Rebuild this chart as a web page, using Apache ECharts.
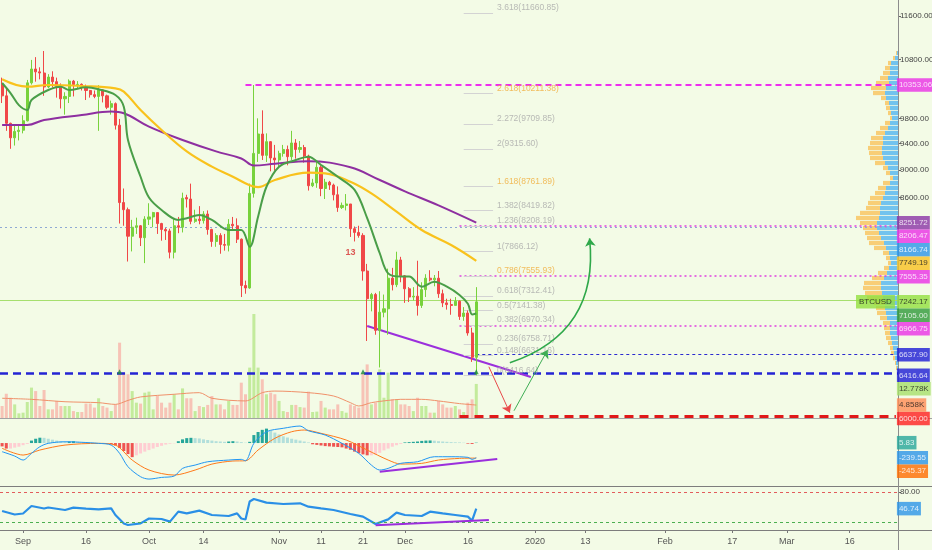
<!DOCTYPE html>
<html><head><meta charset="utf-8">
<script src="https://cdn.jsdelivr.net/npm/echarts@6/dist/echarts.min.js"></script>
<style>html,body{margin:0;padding:0;background:#f3fbe6;}#c{width:932px;height:550px;}</style>
</head><body><div id="c"></div>
<script>
// ================= DATA =================
const startDate = [2019, 7, 27];   // first category: 2019-08-27
const dayCount = 214;              // through 2020-03-27
const xTickLabels = [['2019-09-01','Sep'],['2019-09-16','16'],['2019-10-01','Oct'],['2019-10-14','14'],['2019-11-01','Nov'],['2019-11-11','11'],['2019-11-21','21'],['2019-12-01','Dec'],['2019-12-16','16'],['2020-01-01','2020'],['2020-01-13','13'],['2020-02-01','Feb'],['2020-02-17','17'],['2020-03-01','Mar'],['2020-03-16','16']];
const priceTicks = [11600, 10800, 9800, 9400, 9000, 8600];
const rsiTicks = [80];
// daily candles [open, high, low, close], 2019-08-27 .. 2019-12-18
const candles = [
[10370,10480,10050,10170],[10170,10290,9600,9720],[9720,9730,9320,9490],[9490,9690,9370,9590],[9590,9680,9450,9610],
[9610,9850,9560,9760],[9760,10440,9750,10390],[10390,10790,10360,10630],[10630,10840,10410,10580],[10580,10660,10450,10560],
[10560,10950,10170,10320],[10320,10540,10300,10490],[10490,10590,10310,10410],[10410,10480,10140,10330],[10330,10380,9960,10120],
[10120,10230,9860,10160],[10160,10450,10050,10420],[10420,10440,10160,10360],[10360,10420,10290,10365],[10365,10380,10260,10310],
[10310,10360,10100,10260],[10260,10270,10140,10190],[10190,10260,10130,10160],[10160,10350,9600,10270],[10270,10280,10060,10170],
[10170,10190,9950,9980],[9980,10090,9860,10040],[10040,10060,9620,9690],[9690,9790,8240,8530],[8530,8730,8210,8430],
[8430,8460,7740,8070],[8070,8290,7870,8190],[8190,8320,8100,8210],[8210,8220,7940,8050],[8050,8340,7720,8300],
[8300,8520,8220,8330],[8330,8400,8190,8390],[8390,8390,8100,8240],[8240,8250,8010,8160],[8160,8180,8020,8140],
[8140,8170,7780,7860],[7860,8310,7780,8210],[8210,8330,8110,8190],[8190,8670,8120,8590],[8600,8640,8460,8580],
[8580,8800,8230,8270],[8270,8430,8250,8300],[8300,8480,8230,8280],[8280,8410,8240,8370],[8370,8420,8090,8160],
[8160,8170,7930,8000],[8000,8110,7930,8080],[8080,8110,7840,7960],[7960,8100,7880,7950],[7950,8300,7870,8230],
[8230,8330,8150,8210],[8210,8310,7980,8030],[8030,8040,7300,7440],[7440,7500,7340,7410],[7410,8800,7400,8660],
[8660,10353.06,8600,9250],[9250,9800,9120,9550],[9550,9930,9150,9220],[9220,9560,9120,9430],[9430,9440,8980,9180],
[9180,9380,8990,9150],[9150,9290,9030,9250],[9250,9380,9200,9310],[9310,9370,9070,9200],[9200,9600,9150,9410],
[9410,9470,9170,9310],[9310,9440,9260,9340],[9340,9380,9110,9210],[9210,9230,8700,8770],[8770,8870,8750,8810],
[8810,9120,8740,9040],[9040,9070,8620,8730],[8730,8870,8580,8820],[8820,8840,8710,8780],[8780,8800,8560,8640],
[8640,8760,8400,8460],[8460,8530,8440,8490],[8490,8650,8420,8510],[8510,8510,8060,8170],[8170,8200,8000,8120],
[8120,8210,8050,8080],[8080,8110,7500,7620],[7620,7710,6790,7280],[7280,7350,7130,7330],[7330,7350,6860,6910],
[6910,7370,6500,7120],[7120,7330,7060,7160],[7160,7650,6860,7530],[7530,7660,7380,7450],[7450,7866.12,7420,7760],
[7760,7800,7480,7560],[7560,7570,7230,7400],[7400,7420,7240,7300],[7300,7420,7260,7310],[7310,7750,7080,7200],
[7200,7480,7170,7390],[7390,7580,7300,7530],[7530,7630,7490,7510],[7510,7570,7430,7530],[7530,7620,7290,7340],
[7340,7390,7180,7230],[7230,7280,7150,7210],[7210,7280,7090,7200],[7200,7300,7200,7250],[7250,7260,7030,7070],
[7070,7180,7020,7110],[7110,7140,6850,6880],[6880,6940,6560,6610],[6610,7420,6416.64,7242.17]
];
const volumes = [4500,9100,7600,5100,1750,2000,6000,11400,10100,4500,10500,3250,3250,6400,4500,4500,4500,2600,2250,2250,
5400,5400,3900,7400,4500,3900,2600,5100,28250,17000,16400,10100,5750,5400,9500,9900,3250,8250,5750,3900,
5750,8900,3250,11100,7400,7400,2600,4500,4100,4900,8250,5100,5100,3250,6400,4900,4900,13250,8900,18900,
39000,18900,14500,8900,9500,8900,6400,2600,2250,4900,4900,4100,3900,9900,2250,2400,6400,3900,3250,3250,
5100,2600,2000,5100,4500,3900,17000,20100,5100,5750,18250,7600,17000,7000,7000,5100,5100,4500,2600,7600,
4500,4500,2000,2000,6400,5100,3900,3900,4500,3250,2250,5750,7000,12778];
const volumeMA = [[0,7400],[7,7000],[15,6100],[23,5750],[27,5100],[30,6600],[33,7900],[41,8900],[47,9500],[50,7400],[58,6400],[62,9500],[65,10100],[73,9500],[79,8250],[83,5750],[85,4500],[88,5750],[92,6600],[95,7000],[100,7000],[104,6400],[109,5400],[113,4858]];
const emaFast = [[0,10387],[2,10217],[4,10015],[6,9935],[7,10100],[11,10268],[14,10324],[16,10268],[20,10314],[23,10280],[27,10184],[29,9990],[30,9456],[33,8900],[35,8600],[38,8426],[42,8289],[44,8312],[47,8357],[50,8289],[54,8153],[57,8153],[59,7931],[61,8334],[63,8755],[66,9050],[70,9150],[73,9200],[76,9075],[80,8900],[84,8709],[87,8314],[90,7846],[92,7590],[95,7550],[97,7550],[100,7425],[103,7486],[106,7425],[109,7325],[111,7220],[112,7094],[113,7105]];
const maMid = [[0,10451],[6,10324],[11,10353],[19,10336],[27,10297],[29,10240],[33,9935],[38,9613],[44,9280],[50,9050],[55,8900],[59,8776],[61,8750],[65,8853],[73,8960],[77,8950],[83,8828],[88,8660],[94,8403],[100,8153],[107,7954],[113,7749.19]];
const maSlow = [[0,9693],[6,9693],[10,9773],[19,9854],[26,9909],[29,9882],[35,9666],[43,9456],[51,9280],[57,9173],[60,9066],[65,9093],[73,9132],[83,9040],[90,8853],[96,8689],[104,8490],[113,8251.72]];
const macdLine = [[0,-141],[3,-212],[5,-277],[7,-168],[9,-60],[11,-5],[15,21],[19,12],[23,-5],[26,-33],[28,-168],[30,-386],[33,-549],[35,-587],[38,-560],[41,-538],[43,-413],[46,-359],[49,-305],[54,-277],[57,-266],[58,-289],[60,-5],[63,184],[67,240],[71,277],[73,200],[77,130],[81,-5],[85,-168],[88,-359],[90,-440],[92,-413],[95,-331],[99,-305],[103,-223],[107,-223],[111,-233],[112,-266],[113,-239.55]];
const signalLine = [[0,-86],[5,-196],[9,-114],[15,-33],[23,-5],[27,-33],[31,-277],[35,-440],[41,-522],[46,-440],[50,-343],[55,-293],[58,-289],[61,-114],[65,77],[69,184],[72,212],[76,158],[82,49],[87,-114],[92,-277],[95,-342],[100,-331],[104,-277],[109,-250],[113,-245.37]];
const macdHist = [-55,-90,-90,-75,-60,-35,-15,40,70,87,85,70,55,40,25,15,25,30,20,12,8,5,3,0,-5,-10,-20,-40,-80,-130,
-180,-230,-200,-170,-140,-115,-90,-65,-45,-25,-12,-5,30,60,80,85,80,75,60,50,40,30,25,20,25,30,25,15,5,20,
130,180,215,235,200,170,140,110,90,70,55,40,25,10,-20,-30,-40,-50,-55,-60,-65,-70,-90,-110,-140,-165,-185,-200,-200,-190,
-160,-120,-90,-60,-35,-15,10,15,20,25,35,40,42,38,30,25,20,15,12,10,5,-10,-15,5.83];
const rsi = [[0,42],[3,35],[5,37],[7,52],[10,47],[11,49],[15,44],[17,48.7],[20,46.7],[23,45.3],[26,47.3],[27,34],[29,17],[30,14],[33,17.3],[35,27],[38,26],[40,20.7],[41,30.7],[42,40.7],[44,37.3],[47,42.7],[50,34],[54,32],[56,37.3],[57,27],[58,25],[59,61],[60,66],[63,58.7],[67,56],[71,57.3],[73,50.7],[76,47.3],[79,44],[83,36],[86,30.7],[89,16],[92,25.3],[94,38.7],[96,34],[100,32],[102,40.7],[105,37.3],[108,34],[111,30.7],[112,22.7],[113,46.74]];
const rsiBands = [80, 20];
const fibLevels = [[3.618,11660.85],[2.618,10211.38],[2.272,9709.85],[2,9315.60],[1.618,8761.89],[1.382,8419.82],[1.236,8208.19],[1,7866.12],[0.786,7555.93],[0.618,7312.41],[0.5,7141.38],[0.382,6970.34],[0.236,6758.71],[0.148,6631.16],[0,6416.64]];
const fibSpan = [110, 117];
const hLineValues = [10353.06, 8206.47, 8166.74, 7555.35, 7242.17, 6966.75, 6637.90, 6416.64, 6000];
const hLineStart = [58, 109, null, 109, null, 109, 113, null, 109];
const priceTags = [10353.06, 8251.72, 8206.47, 8166.74, 7749.19, 7555.35, 7242.17, 7105.00, 6966.75, 6637.90, 6416.64, 6000.00];
const volumeTags = [[12778, '12.778K'], [4858, '4.858K']];
const macdTags = [5.83, -239.55, -245.37];
const rsiTags = [46.74];
const symbolName = 'BTCUSD';
// volume profile rows [price, upVolume, downVolume] (relative units)
const profileRows = [[10914,1,1],[10824,3,2],[10735,7,3],[10647,8,5],[10560,8,7],[10473,10,8],[10387,9,13],[10302,12,15],[10217,13,12],[10134,12,5],
[10050,9,4],[9968,8,4],[9886,7,3],[9805,6,2],[9725,8,5],[9645,10,8],[9566,13,9],[9487,15,12],[9409,15,13],[9332,16,14],
[9256,16,13],[9180,15,13],[9104,13,10],[9030,10,5],[8956,8,4],[8882,5,3],[8809,8,7],[8737,12,8],[8665,13,10],[8594,15,13],
[8524,17,13],[8454,18,14],[8385,18,20],[8316,19,23],[8247,21,17],[8180,21,14],[8113,19,14],[8046,17,14],[7980,14,15],[7915,12,12],
[7850,9,6],[7785,8,4],[7721,7,3],[7658,9,5],[7595,11,9],[7533,14,12],[7471,17,17],[7410,17,18],[7349,16,17],[7289,15,16],
[7229,13,11],[7169,13,9],[7111,12,9],[7052,11,7],[6994,8,7],[6937,8,6],[6880,8,5],[6824,7,5],[6768,6,4],[6712,5,3],
[6657,4,3],[6602,3,2],[6548,2,1],[6495,1,1]];
// annotation geometry in data space: [[startIdx, value], [endIdx, value]]
const divergencePrice = [[87, 6960], [126, 6399]];
const divergenceMacd = [[90, -466], [118, -261]];
const divergenceRsi = [[89, 13.4], [116, 24]];
const arrowUpCurve = [[121, 6551], [140, 8042]];
const arrowUpThin = [[122, 6053], [130, 6691]];
const arrowDown = [[116, 6508], [121, 6033]];
const signalMarks = [[28, 6455], [86, 6455], [113, 6455]];
const countLabel = [[83, 7855, '13']];

// ================= BUILD =================
const LN = Math.log;
const PMIN = 5980.7, PMAX = 11910;
const FONT = "'Liberation Sans Narrow','Liberation Sans','DejaVu Sans',sans-serif";
const cats = [];
for (let i = 0; i < dayCount; i++) {
  const t = new Date(Date.UTC(startDate[0], startDate[1], startDate[2]) + i * 86400000);
  cats.push(t.toISOString().slice(0, 10));
}
const last = dayCount - 1;
const tickMap = new Map(xTickLabels);
const UP = '#78d23c', DOWN = '#f04848';
const VUP = '#c3eb9c', VDOWN = '#f7c3b6';

const candleData = candles.map(c => [LN(c[0]), LN(c[3]), LN(c[2]), LN(c[1])]);
const volData = volumes.map((v, i) => ({ value: v, itemStyle: { color: candles[i][3] >= candles[i][0] ? VUP : VDOWN } }));
const lnPairs = arr => arr.map(p => [p[0], LN(p[1])]);
const histData = macdHist.map((h, i) => {
  const prev = i > 0 ? macdHist[i - 1] : 0;
  let col;
  if (h >= 0) col = h >= prev ? '#26a69a' : '#b2dfdb';
  else col = h < prev ? '#ef5350' : '#ffcdd2';
  return { value: h, itemStyle: { color: col } };
});

const hStyles = [
  { color: '#ee2cee', width: 2, type: [6, 4] },
  { color: '#e040e0', width: 1.5, type: [2, 3] },
  { color: '#8fa9d4', width: 1, type: [2, 3] },
  { color: '#e040e0', width: 1.5, type: [2, 3] },
  { color: '#a6df6e', width: 1, type: 'solid' },
  { color: '#e040e0', width: 1.5, type: [2, 3] },
  { color: '#2a2ad0', width: 1, type: [3, 3] },
  { color: '#2424d4', width: 2.5, type: [8, 5] },
  { color: '#e01818', width: 3, type: [9, 6] }
];
const hLineData = hLineValues.map((v, i) => {
  const ls = hStyles[i];
  if (hLineStart[i] == null) return { yAxis: LN(v), lineStyle: ls };
  return [{ coord: [hLineStart[i], LN(v)], lineStyle: ls }, { coord: [last, LN(v)] }];
});
const fibOrange = { 2.618: 1, 1.618: 1, 0.786: 1 };
const fibLineData = fibLevels.map(f => [{ coord: [fibSpan[0], LN(f[1])] }, { coord: [fibSpan[1], LN(f[1])] }]);
const fibLabelData = fibLevels.map(f => ({
  value: [fibSpan[1], LN(f[1])],
  label: { formatter: f[0] + '(' + f[1].toFixed(2) + ')', color: fibOrange[f[0]] ? '#f0ad3a' : '#a9a9a9' }
}));
const seg = a => [{ coord: [a[0][0], a[0][1]] }, { coord: [a[1][0], a[1][1]] }];
const lnSeg = a => [[a[0][0], LN(a[0][1])], [a[1][0], LN(a[1][1])]];

const tagStyle = {
  MAG: ['#ea2fe6', '#fff'], PUR: ['#8a34a6', '#fff'], BLU: ['#2a95e8', '#fff'], YEL: ['#f9c222', '#222'],
  LIME: ['#92e03f', '#1a1a1a'], GRN: ['#2f9a3a', '#fff'], NAVY: ['#1b1bd6', '#fff'], RED: ['#ff1f1f', '#fff'],
  LGRN: ['#a6e06c', '#1a1a1a'], ORG: ['#ff8c55', '#1a1a1a'], TEAL: ['#26a69a', '#fff'], ORG2: ['#ff6d00', '#fff']
};
const priceTagKinds = ['MAG', 'PUR', 'MAG', 'BLU', 'YEL', 'MAG', 'LIME', 'GRN', 'MAG', 'NAVY', 'NAVY', 'RED'];
const TAG_H = 13.5;
const tagLabelBase = {
  show: true, position: 'right', distance: 1, fontSize: 8, fontFamily: FONT, lineHeight: 9.5,
  padding: [2, 2, 2, 2]
};
const mkTag = (x, y, text, kind, dy) => ({
  value: [x, y],
  label: { formatter: text, backgroundColor: tagStyle[kind][0], color: tagStyle[kind][1], offset: [0, dy || 0] }
});
const tagGroups = [
  { id: 'tagP', xi: 0, yi: 0, vals: priceTags.map(LN), texts: priceTags.map(v => v.toFixed(2)), kinds: priceTagKinds },
  { id: 'tagV', xi: 0, yi: 1, vals: volumeTags.map(t => t[0]), texts: volumeTags.map(t => t[1]), kinds: ['LGRN', 'ORG'] },
  { id: 'tagM', xi: 1, yi: 2, vals: macdTags, texts: macdTags.map(v => v.toFixed(2)), kinds: ['TEAL', 'BLU', 'ORG2'] },
  { id: 'tagR', xi: 2, yi: 3, vals: rsiTags, texts: rsiTags.map(v => v.toFixed(2)), kinds: ['BLU'] }
];
const tagSeries = (g, offsets) => ({
  id: g.id, type: 'scatter', xAxisIndex: g.xi, yAxisIndex: g.yi, symbolSize: 0, silent: true, z: 20,
  label: tagLabelBase,
  data: g.vals.map((v, i) => mkTag(last, v, g.texts[i], g.kinds[i], offsets ? offsets[i] : 0))
});

const gridBase = { left: 0, right: 34, outerBoundsMode: 'none', containLabel: false };
const grids = [
  Object.assign({ top: 0, height: 418 }, gridBase),
  Object.assign({ top: 418, height: 68 }, gridBase),
  Object.assign({ top: 486, height: 44 }, gridBase),
  { right: 34, width: 100, top: 0, height: 418, outerBoundsMode: 'none', containLabel: false }
];
const hiddenCat = gi => ({ type: 'category', gridIndex: gi, data: cats, boundaryGap: true, show: false });

const option = {
  animation: false,
  backgroundColor: '#f3fbe6',
  textStyle: { fontFamily: FONT },
  grid: grids,
  xAxis: [
    hiddenCat(0), hiddenCat(1),
    {
      type: 'category', gridIndex: 2, data: cats, boundaryGap: true,
      axisLine: { show: false },
      axisTick: { show: true, alignWithLabel: true, length: 3, interval: (i, v) => tickMap.has(v), lineStyle: { color: '#777' } },
      axisLabel: { interval: (i, v) => tickMap.has(v), formatter: v => tickMap.get(v) || '', fontSize: 9, color: '#555', margin: 7, fontFamily: FONT },
      splitLine: { show: false }
    },
    { type: 'value', gridIndex: 3, min: 0, max: 100, inverse: true, show: false }
  ],
  yAxis: [
    {
      type: 'value', gridIndex: 0, position: 'right', min: LN(PMIN), max: LN(PMAX),
      splitLine: { show: false }, axisLine: { show: false },
      axisTick: { show: true, length: 3, customValues: priceTicks.map(LN), lineStyle: { color: '#666' } },
      axisLabel: { customValues: priceTicks.map(LN), formatter: v => Math.exp(v).toFixed(2), fontSize: 8, color: '#444', margin: 2, fontFamily: FONT }
    },
    { type: 'value', gridIndex: 0, min: 0, max: 156750, show: false },
    { type: 'value', gridIndex: 1, min: -700, max: 408, show: false },
    {
      type: 'value', gridIndex: 2, position: 'right', min: 4, max: 92,
      splitLine: { show: false }, axisLine: { show: false },
      axisTick: { show: true, length: 3, customValues: rsiTicks, lineStyle: { color: '#666' } },
      axisLabel: { customValues: rsiTicks, formatter: v => v.toFixed(2), fontSize: 8, color: '#444', margin: 2, fontFamily: FONT }
    },
    { type: 'value', gridIndex: 3, min: LN(PMIN), max: LN(PMAX), show: false }
  ],
  graphic: [
    { type: 'line', shape: { x1: 0, y1: 418.5, x2: 932, y2: 418.5 }, style: { stroke: '#a3a3a3', lineWidth: 1 }, z: 5 },
    { type: 'line', shape: { x1: 0, y1: 486.5, x2: 932, y2: 486.5 }, style: { stroke: '#7d7d7d', lineWidth: 1 }, z: 5 },
    { type: 'line', shape: { x1: 0, y1: 530.5, x2: 932, y2: 530.5 }, style: { stroke: '#7d7d7d', lineWidth: 1.2 }, z: 5 },
    { type: 'line', shape: { x1: 898.5, y1: 0, x2: 898.5, y2: 550 }, style: { stroke: '#8c8c8c', lineWidth: 1 }, z: 5 }
  ],
  series: [
    // volume profile
    {
      type: 'custom', xAxisIndex: 3, yAxisIndex: 4, silent: true, z: 1,
      data: profileRows.map(r => [r[1], LN(r[0]), r[2]]),
      encode: { x: 0, y: 1 },
      renderItem(params, api) {
        const up = api.value(0), y = api.value(1), dn = api.value(2);
        const p0 = api.coord([0, y]), p1 = api.coord([up, y]), p2 = api.coord([up + dn, y]);
        const h = 4.2;
        return {
          type: 'group', children: [
            { type: 'rect', shape: { x: p1[0], y: p0[1] - h / 2, width: p0[0] - p1[0], height: h }, style: { fill: '#5ab8ee', opacity: 0.85 } },
            { type: 'rect', shape: { x: p2[0], y: p0[1] - h / 2, width: p1[0] - p2[0], height: h }, style: { fill: '#f8c663', opacity: 0.85 } }
          ]
        };
      }
    },
    // volume
    { type: 'bar', xAxisIndex: 0, yAxisIndex: 1, data: volData, barWidth: '72%', silent: true, z: 2 },
    { type: 'line', xAxisIndex: 0, yAxisIndex: 1, data: volumeMA, showSymbol: false, smooth: 0.3, silent: true, lineStyle: { color: '#f0916a', width: 1 }, z: 3 },
    // candles + horizontal levels
    {
      type: 'candlestick', xAxisIndex: 0, yAxisIndex: 0, data: candleData, barWidth: '62%', silent: true, z: 5,
      itemStyle: { color: UP, color0: DOWN, borderColor: UP, borderColor0: DOWN, borderWidth: 1 },
      markLine: { silent: true, symbol: ['none', 'none'], label: { show: false }, animation: false, data: hLineData, z: 4 }
    },
    // moving averages
    {
      type: 'line', xAxisIndex: 0, yAxisIndex: 0, data: lnPairs(maSlow), showSymbol: false, smooth: 0.4, silent: true,
      lineStyle: { color: '#8e2fa0', width: 2 }, z: 6,
      markLine: {
        silent: true, symbol: ['none', 'none'], label: { show: false },
        lineStyle: { color: '#9b2fdc', width: 2, type: 'solid' },
        data: [[{ coord: [divergencePrice[0][0], LN(divergencePrice[0][1])] }, { coord: [divergencePrice[1][0], LN(divergencePrice[1][1])] }]]
      }
    },
    {
      type: 'line', xAxisIndex: 0, yAxisIndex: 0, data: lnPairs(maMid), showSymbol: false, smooth: 0.4, silent: true,
      lineStyle: { color: '#f9c21c', width: 2.2 }, z: 6
    },
    {
      type: 'line', xAxisIndex: 0, yAxisIndex: 0, data: lnPairs(emaFast), showSymbol: false, smooth: 0.35, silent: true,
      lineStyle: { color: '#4a9e48', width: 2 }, z: 7,
      markLine: { silent: true, symbol: ['none', 'none'], label: { show: false }, lineStyle: { color: '#d3d3d3', width: 1, type: 'solid' }, data: fibLineData }
    },
    // arrows
    {
      type: 'lines', coordinateSystem: 'cartesian2d', xAxisIndex: 0, yAxisIndex: 0, silent: true, z: 9,
      symbol: ['none', 'arrow'], symbolSize: 8,
      data: [
        { coords: lnSeg(arrowUpCurve), lineStyle: { color: '#2fa84a', width: 1.6, curveness: -0.4, opacity: 1 } },
        { coords: lnSeg(arrowUpThin), lineStyle: { color: '#3fae55', width: 1, curveness: 0, opacity: 1 } },
        { coords: lnSeg(arrowDown), lineStyle: { color: '#e84a4a', width: 1, curveness: 0, opacity: 1 } }
      ]
    },
    // fib labels
    {
      type: 'scatter', xAxisIndex: 0, yAxisIndex: 0, symbolSize: 0, silent: true, z: 8,
      label: { show: true, position: 'right', distance: 4, offset: [0, -5], fontSize: 8.5, fontFamily: FONT },
      data: fibLabelData
    },
    // signal markers and count label
    {
      type: 'scatter', xAxisIndex: 0, yAxisIndex: 0, symbol: 'triangle', symbolSize: 5, silent: true, z: 8,
      itemStyle: { color: '#1f8f3c' }, data: lnPairs(signalMarks)
    },
    {
      type: 'scatter', xAxisIndex: 0, yAxisIndex: 0, symbolSize: 0, silent: true, z: 8,
      label: { show: true, position: 'inside', fontSize: 9, fontWeight: 'bold', color: '#d62e2e', formatter: p => p.data[2] },
      data: countLabel.map(c => [c[0], LN(c[1]), c[2]])
    },
    // MACD
    { type: 'bar', xAxisIndex: 1, yAxisIndex: 2, data: histData, barWidth: '72%', silent: true, z: 2 },
    {
      type: 'line', xAxisIndex: 1, yAxisIndex: 2, data: macdLine, showSymbol: false, smooth: 0.3, silent: true, lineStyle: { color: '#2196f3', width: 1 }, z: 4,
      markLine: { silent: true, symbol: ['none', 'none'], label: { show: false }, lineStyle: { color: '#9b2fdc', width: 2, type: 'solid' }, data: [seg(divergenceMacd)] }
    },
    { type: 'line', xAxisIndex: 1, yAxisIndex: 2, data: signalLine, showSymbol: false, smooth: 0.3, silent: true, lineStyle: { color: '#ff7a1a', width: 1 }, z: 3 },
    // RSI
    {
      type: 'line', xAxisIndex: 2, yAxisIndex: 3, data: rsi, showSymbol: false, silent: true, lineStyle: { color: '#2a8fe6', width: 2.2 }, z: 4,
      markLine: {
        silent: true, symbol: ['none', 'none'], label: { show: false },
        data: [
          { yAxis: rsiBands[0], lineStyle: { color: '#e25c5c', width: 1, type: [3, 3] } },
          { yAxis: rsiBands[1], lineStyle: { color: '#4caf50', width: 1, type: [3, 3] } },
          [{ coord: divergenceRsi[0], lineStyle: { color: '#9b2fdc', width: 2, type: 'solid' } }, { coord: divergenceRsi[1] }]
        ]
      }
    },
    // right-side value tags
    ...tagGroups.map(g => tagSeries(g)),
    {
      type: 'scatter', xAxisIndex: 0, yAxisIndex: 0, symbolSize: 0, silent: true, z: 20,
      label: { show: true, position: 'left', distance: 1, fontSize: 8, fontFamily: FONT, lineHeight: 9.5, padding: [2, 3, 2, 3], backgroundColor: '#92e03f', color: '#1a1a1a', formatter: symbolName },
      data: [[last, LN(priceTags[6])]]
    }
  ]
};
const chart = echarts.init(document.getElementById('c'), null, { renderer: 'canvas' });
chart.setOption(option);

// stack the right-side tags so they don't overlap (pushed downward like the original)
const items = [];
tagGroups.forEach(g => g.vals.forEach((v, i) => {
  const py = chart.convertToPixel({ seriesId: g.id }, [last, v])[1];
  items.push({ g, i, py });
}));
items.sort((a, b) => a.py - b.py);
let bottomEdge = -Infinity;
items.forEach(it => {
  let top = it.py - TAG_H / 2;
  if (top < bottomEdge) top = bottomEdge;
  it.dy = top + TAG_H / 2 - it.py;
  bottomEdge = top + TAG_H;
});
chart.setOption({
  series: tagGroups.map(g => {
    const offs = g.vals.map((v, i) => items.find(it => it.g === g && it.i === i).dy);
    return { id: g.id, data: g.vals.map((v, i) => mkTag(last, v, g.texts[i], g.kinds[i], offs[i])) };
  })
});
</script></body></html>
